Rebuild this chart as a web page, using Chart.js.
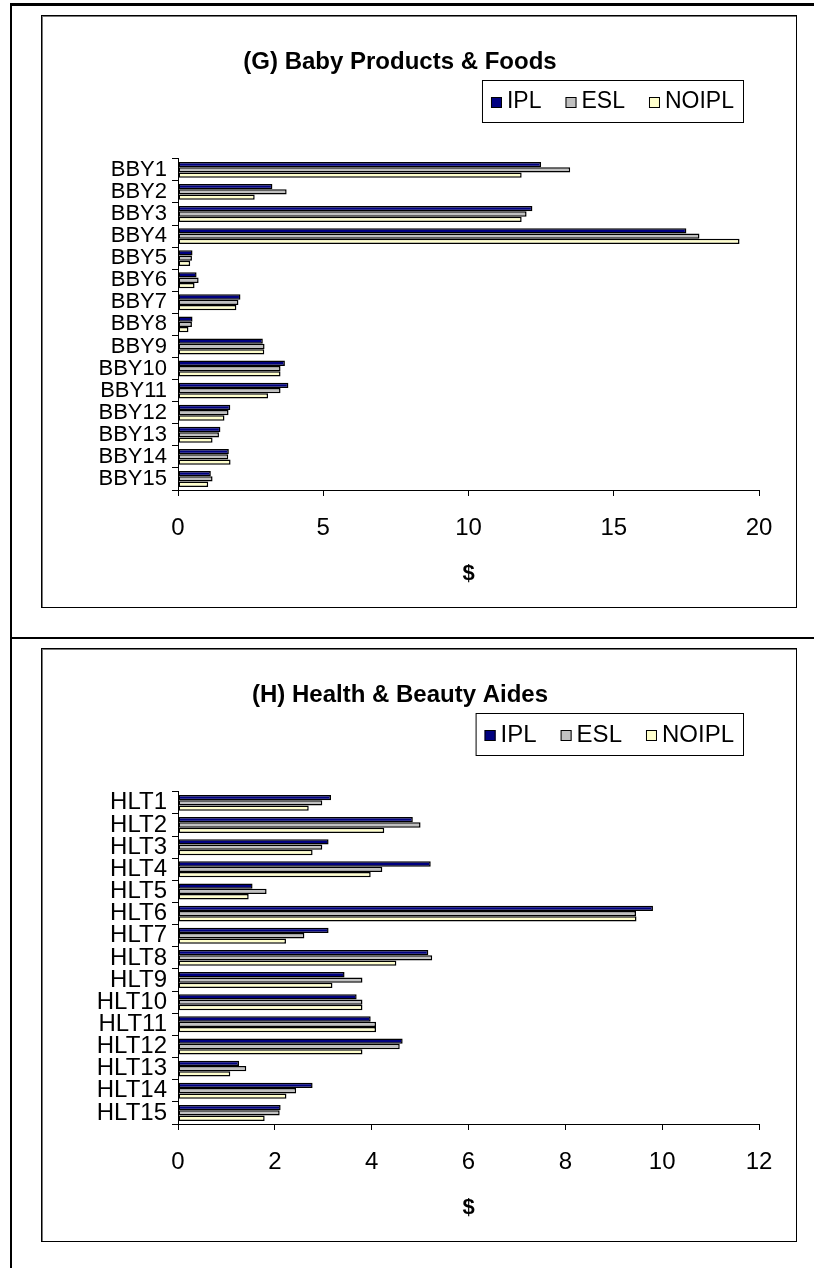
<!DOCTYPE html>
<html>
<head>
<meta charset="utf-8">
<title>Baby Products &amp; Foods / Health &amp; Beauty Aides</title>
<script src="https://cdn.jsdelivr.net/npm/chart.js@4.4.1/dist/chart.umd.min.js"></script>
<style>
  html, body { margin: 0; padding: 0; background: #fff; }
  body { position: relative; width: 814px; height: 1268px; overflow: hidden; }
  .rule { position: absolute; background: #000; }
  .panel { position: absolute; left: 41px; width: 756px; box-sizing: border-box;
           border: 1px solid #000; box-shadow: inset 1px 1px 0 #777; }
  .panel canvas { position: absolute; left: -1px; top: -1px; }
</style>
</head>
<body>
<div class="rule" style="left:10px; top:3px; width:804px; height:3px;"></div>
<div class="rule" style="left:10px; top:3px; width:2px; height:1265px;"></div>
<div class="rule" style="left:10px; top:637px; width:804px; height:2px;"></div>

<div class="panel" style="top:15px; height:593px;">
  <canvas id="babyChart" width="756" height="593"></canvas>
</div>
<div class="panel" style="top:648px; height:594px;">
  <canvas id="healthChart" width="756" height="594"></canvas>
</div>

<script>
// series names and colours shared by both panels
const seriesNames = ['IPL', 'ESL', 'NOIPL'];
const seriesColors = ['#000080', '#c0c0c0', '#ffffcc'];

// (G) Baby Products & Foods
const babyItems = ['BBY1', 'BBY2', 'BBY3', 'BBY4', 'BBY5', 'BBY6', 'BBY7', 'BBY8',
                   'BBY9', 'BBY10', 'BBY11', 'BBY12', 'BBY13', 'BBY14', 'BBY15'];
const babyIPL   = [12.5, 3.25, 12.2, 17.5, 0.5, 0.64, 2.15, 0.5, 2.92, 3.68, 3.8, 1.8, 1.46, 1.75, 1.13];
const babyESL   = [13.5, 3.74, 12.0, 17.95, 0.48, 0.71, 2.08, 0.48, 2.98, 3.53, 3.53, 1.74, 1.41, 1.73, 1.19];
const babyNOIPL = [11.83, 2.64, 11.83, 19.33, 0.42, 0.57, 2.01, 0.36, 2.97, 3.53, 3.1, 1.6, 1.19, 1.81, 1.04];
const babyTicks = [0, 5, 10, 15, 20];

// (H) Health & Beauty Aides
const healthItems = ['HLT1', 'HLT2', 'HLT3', 'HLT4', 'HLT5', 'HLT6', 'HLT7', 'HLT8',
                     'HLT9', 'HLT10', 'HLT11', 'HLT12', 'HLT13', 'HLT14', 'HLT15'];
const healthIPL   = [3.16, 4.85, 3.11, 5.22, 1.54, 9.81, 3.11, 5.17, 3.44, 3.69, 3.98, 4.64, 1.26, 2.78, 2.12];
const healthESL   = [2.98, 5.01, 2.98, 4.22, 1.83, 9.46, 2.61, 5.25, 3.81, 3.81, 4.09, 4.58, 1.41, 2.44, 2.1];
const healthNOIPL = [2.7, 4.26, 2.78, 3.98, 1.46, 9.47, 2.23, 4.51, 3.19, 3.81, 4.09, 3.81, 1.08, 2.24, 1.79];
const healthTicks = [0, 2, 4, 6, 8, 10, 12];

const FONT = "'Liberation Sans', Arial, sans-serif";
Chart.defaults.font.family = FONT;
Chart.defaults.color = '#000';

// Excel-style legend: small squares + names inside a thin black frame
const boxedLegend = {
    id: 'boxedLegend',
    afterDraw(chart, args, opts) {
        const ctx = chart.ctx;
        const sets = chart.data.datasets;
        ctx.save();
        ctx.font = opts.fontSize + 'px ' + FONT;
        const widths = sets.map(d => ctx.measureText(d.label).width);
        let w = opts.padX * 2;
        widths.forEach((tw, i) => {
            w += opts.boxSize + opts.textGap + tw + (i < sets.length - 1 ? opts.itemGap : 0);
        });
        const left = opts.right - w;
        const midY = opts.top + opts.height / 2;

        ctx.fillStyle = '#fff';
        ctx.fillRect(left, opts.top, w, opts.height);
        ctx.strokeStyle = '#000';
        ctx.lineWidth = 1;
        ctx.strokeRect(left + 0.5, opts.top + 0.5, w, opts.height);

        let x = left + opts.padX;
        sets.forEach((d, i) => {
            const y0 = Math.round(midY - opts.boxSize / 2) + 1;
            ctx.fillStyle = d.backgroundColor;
            ctx.fillRect(x, y0, opts.boxSize, opts.boxSize);
            ctx.strokeRect(x + 0.5, y0 + 0.5, opts.boxSize - 1, opts.boxSize - 1);
            x += opts.boxSize + opts.textGap;
            ctx.fillStyle = '#000';
            ctx.textBaseline = 'middle';
            ctx.fillText(d.label, x, midY + 1);
            x += widths[i] + opts.itemGap;
        });
        ctx.restore();
    }
};

function buildDatasets(values) {
    return values.map((data, i) => ({
        label: seriesNames[i],
        data: data,
        backgroundColor: seriesColors[i],
        borderColor: '#000',
        borderWidth: 1.5,
        borderSkipped: false,
        barPercentage: 1.0,
        categoryPercentage: 0.72
    }));
}

function drawPanel(canvasId, title, labels, values, ticks, fonts) {
    const ctx = document.getElementById(canvasId);
    if (!ctx) {
        console.warn('Canvas not found: ' + canvasId);
        return;
    }
    const step = ticks[1] - ticks[0];
    new Chart(ctx, {
        type: 'bar',
        data: { labels: labels, datasets: buildDatasets(values) },
        plugins: [boxedLegend],
        options: {
            indexAxis: 'y',
            responsive: false,
            animation: false,
            devicePixelRatio: 1,
            layout: { padding: { left: 0, right: 38, top: 0, bottom: 0 } },
            scales: {
                x: {
                    min: ticks[0],
                    max: ticks[ticks.length - 1],
                    ticks: { stepSize: step, font: { size: fonts.ticks }, padding: 18, color: '#000' },
                    grid: { drawOnChartArea: false, tickLength: 6, color: '#000' },
                    border: { color: '#000', width: 1 },
                    title: {
                        display: true,
                        text: '$',
                        font: { size: 22, weight: 'bold' },
                        color: '#000',
                        padding: { top: 4, bottom: 21 }
                    },
                    afterFit(scale) { scale.height = 118; }
                },
                y: {
                    ticks: { font: { size: fonts.labels }, padding: 5, autoSkip: false, color: '#000' },
                    grid: { drawOnChartArea: false, offset: true, tickLength: 6, color: '#000' },
                    border: { color: '#000', width: 1 },
                    afterFit(scale) { scale.width = 137; }
                }
            },
            plugins: {
                legend: { display: false },
                tooltip: { enabled: false },
                title: {
                    display: true,
                    text: title,
                    color: '#000',
                    font: { size: 24, weight: 'bold' },
                    padding: { top: 33, bottom: 82 }
                },
                boxedLegend: {
                    right: 702, top: 65, height: 42,
                    fontSize: fonts.legend, boxSize: 11, textGap: 5, itemGap: 24, padX: 9
                }
            }
        }
    });
}

drawPanel('babyChart', '(G) Baby Products & Foods', babyItems,
          [babyIPL, babyESL, babyNOIPL], babyTicks,
          { labels: 22, ticks: 24, legend: 23 });
drawPanel('healthChart', '(H) Health & Beauty Aides', healthItems,
          [healthIPL, healthESL, healthNOIPL], healthTicks,
          { labels: 24, ticks: 24, legend: 24 });
</script>
</body>
</html>
